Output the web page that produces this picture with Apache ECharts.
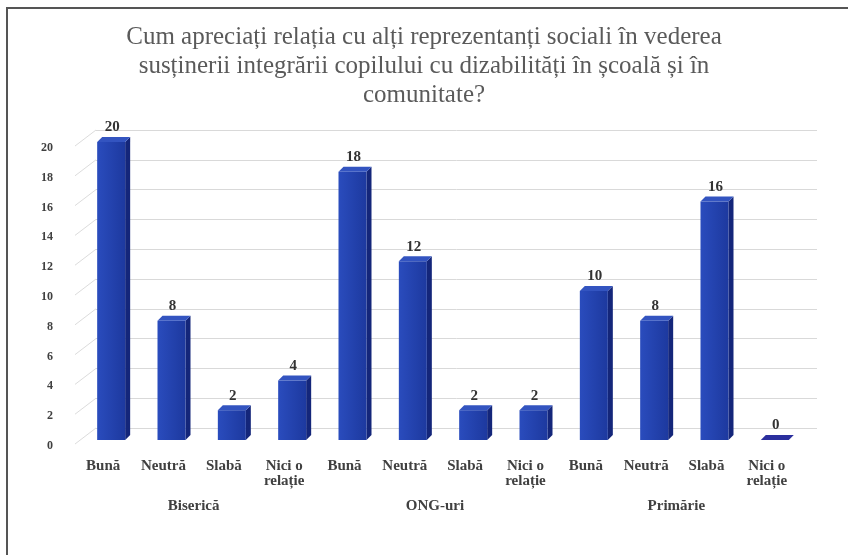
<!DOCTYPE html>
<html>
<head>
<meta charset="utf-8">
<script src="https://cdn.jsdelivr.net/npm/echarts@6/dist/echarts.min.js"></script>
<style>
html,body{margin:0;padding:0;background:#fff;}
#chart{width:848px;height:555px;}
</style>
</head>
<body>
<div id="chart"></div>
<script>
// ---- data ----
const titleText = 'Cum apreciați relația cu alți reprezentanți sociali în vederea\nsusținerii integrării copilului cu dizabilități în școală și în\ncomunitate?';
const groups = ['Biserică', 'ONG-uri', 'Primărie'];
const ratings = ['Bună', 'Neutră', 'Slabă', 'Nici o\nrelație'];
const values = [20, 8, 2, 4, 18, 12, 2, 2, 10, 8, 16, 0];
const yMin = 0, yMax = 20, yStep = 2;

// build categories
const categories = [];
groups.forEach(g => ratings.forEach(r => categories.push(r)));
const yTicks = [];
for (let v = yMin; v <= yMax; v += yStep) yTicks.push(v);

const SERIF = '"Liberation Serif", "DejaVu Serif", serif';
const chart = echarts.init(document.getElementById('chart'));

function renderBar(params, api) {
  const p = api.coord([api.value(0), api.value(1)]);
  const b = api.coord([api.value(0), 0]);
  const cx = p[0];
  const left = cx - 6, w = 28, right = left + w;
  const top = p[1], bottom = b[1];
  const dx = 5, dy = -5;
  return {
    type: 'group',
    children: [
      { type: 'polygon', shape: { points: [[right, top], [right + dx, top + dy], [right + dx, bottom + dy], [right, bottom]] },
        style: { fill: '#14267a' } },
      { type: 'rect', shape: { x: left, y: top, width: w, height: Math.max(bottom - top, 0) },
        style: { fill: new echarts.graphic.LinearGradient(0, 0, 1, 0, [{offset: 0, color: '#2a4cbd'}, {offset: 1, color: '#1d399f'}]) } },
      { type: 'polygon', shape: { points: [[left, top], [left + dx, top + dy], [right + dx, top + dy], [right, top]] },
        style: { fill: api.value(1) === 0 ? '#2b2f9e' : '#3354c0' } },
      { type: 'text', style: { text: String(api.value(1)), x: cx + 9, y: top + dy - 2, align: 'center', verticalAlign: 'bottom',
        fill: '#333', font: 'bold 15px ' + SERIF } }
    ]
  };
}

function renderDiag(params, api) {
  const p = api.coord([0, api.value(0)]);
  const x0 = params.coordSys.x;
  return {
    type: 'line',
    shape: { x1: x0 + 2, y1: p[1] + 4, x2: x0 + 23, y2: p[1] - 12 },
    style: { stroke: '#dcdcdc', lineWidth: 1 }
  };
}

chart.setOption({
  backgroundColor: '#fff',
  animation: false,
  title: {
    text: titleText, left: 'center', top: 18,
    textStyle: { fontFamily: SERIF, fontWeight: 'normal', fontSize: 25, lineHeight: 29, color: '#5a5a5a' }
  },
  graphic: [{ type: 'rect', shape: { x: 7, y: 8, width: 900, height: 600 }, style: { fill: 'none', stroke: '#555', lineWidth: 2 }, z: 100 }],
  grid: [
    { left: 73, right: 51, top: 142, bottom: 115 },
    { left: 96, right: 31, top: 130, bottom: 127 }
  ],
  xAxis: [
    { gridIndex: 0, type: 'category', data: categories, axisLine: { show: false }, axisTick: { show: false },
      axisLabel: { interval: 0, margin: 19, fontFamily: SERIF, fontWeight: 'bold', fontSize: 15, lineHeight: 15, color: '#404040' } },
    { gridIndex: 0, type: 'category', position: 'bottom', data: groups, axisLine: { show: false }, axisTick: { show: false },
      axisLabel: { interval: 0, margin: 59, fontFamily: SERIF, fontWeight: 'bold', fontSize: 15, color: '#404040' } },
    { gridIndex: 1, type: 'category', data: categories, show: false }
  ],
  yAxis: [
    { gridIndex: 0, type: 'value', min: yMin, max: yMax, interval: yStep, splitLine: { show: false },
      axisLine: { show: false }, axisTick: { show: false },
      axisLabel: { margin: 20, verticalAlign: 'top', fontFamily: SERIF, fontWeight: 'bold', fontSize: 12, color: '#404040' } },
    { gridIndex: 1, type: 'value', min: yMin, max: yMax, interval: yStep,
      axisLine: { show: false }, axisTick: { show: false }, axisLabel: { show: false },
      splitLine: { show: true, lineStyle: { color: '#d9d9d9', width: 1 } } }
  ],
  series: [
    { type: 'custom', xAxisIndex: 0, yAxisIndex: 0, renderItem: renderDiag, data: yTicks.map(v => [v]), encode: { y: 0 }, silent: true, z: 1 },
    { type: 'custom', xAxisIndex: 0, yAxisIndex: 0, renderItem: renderBar,
      data: values.map((v, i) => [i, v]), encode: { x: 0, y: 1 }, z: 5 }
  ]
});
</script>
</body>
</html>
